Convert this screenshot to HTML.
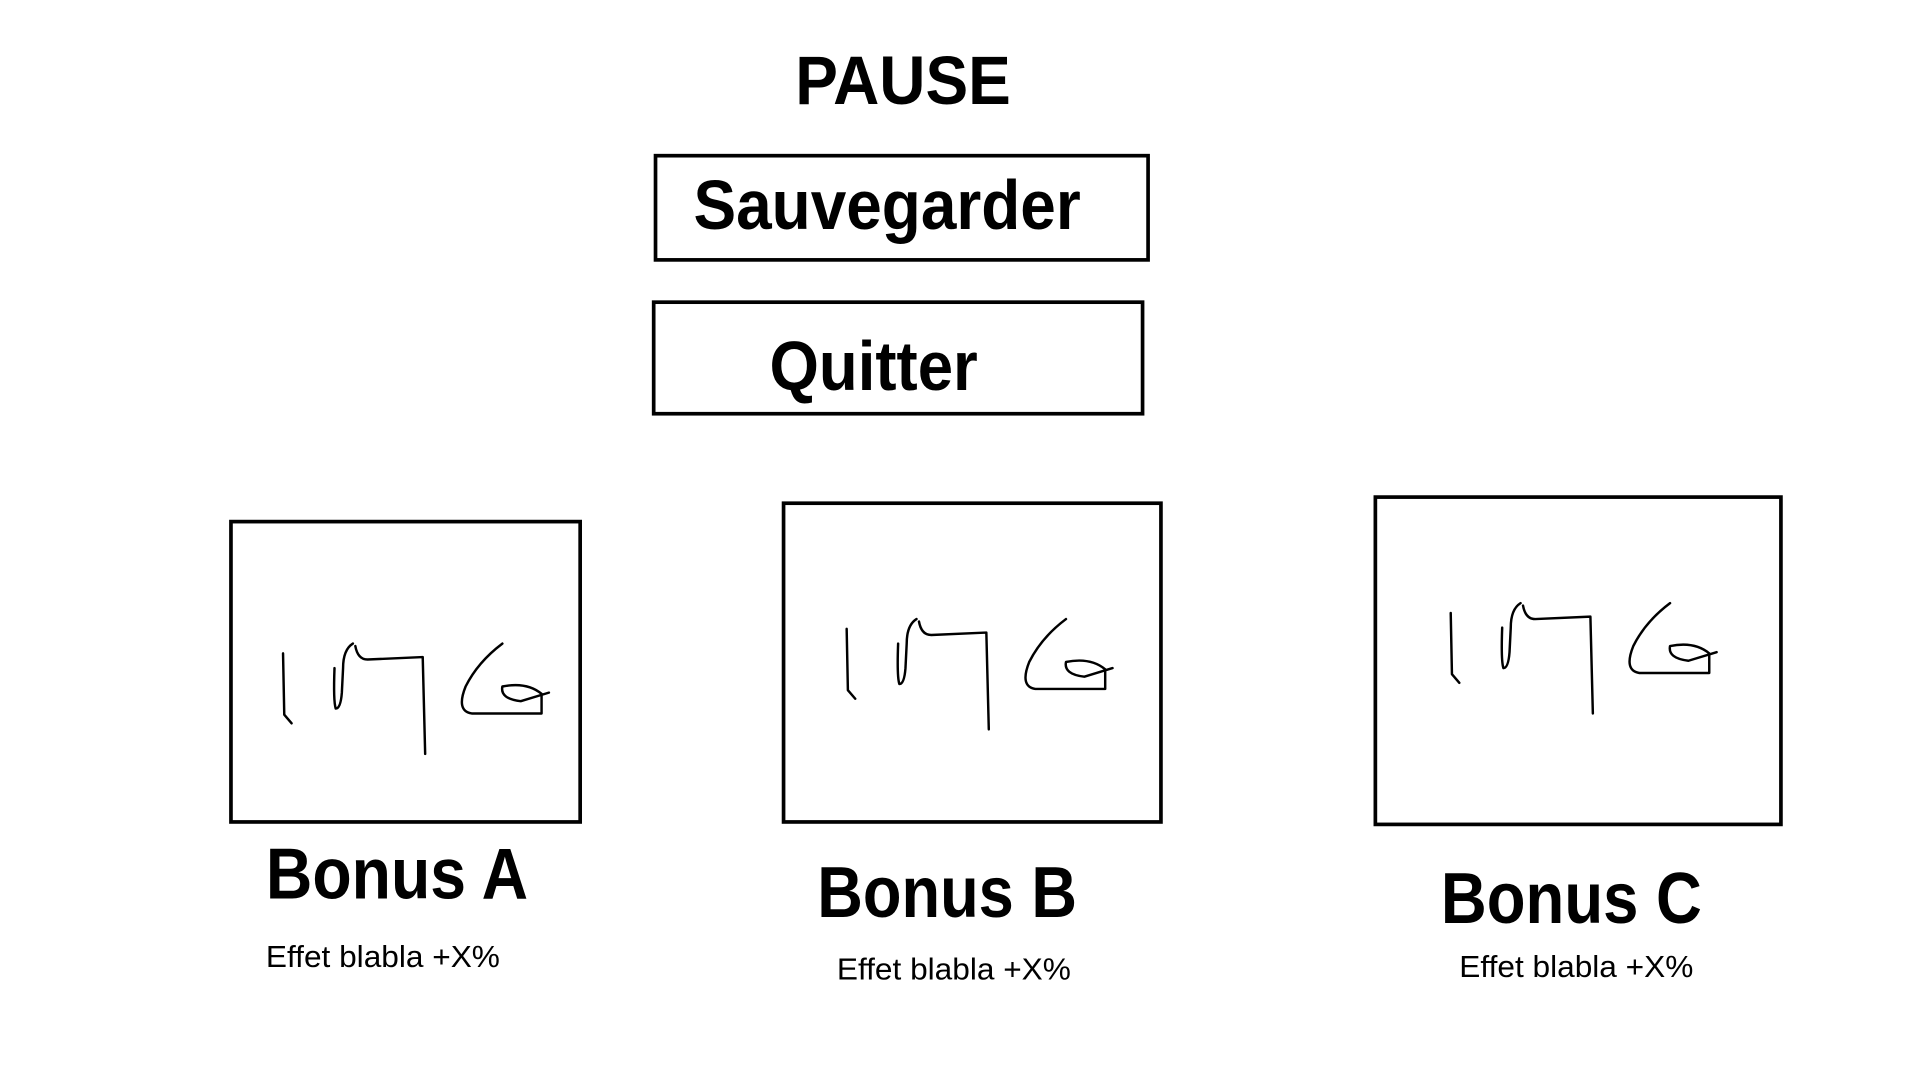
<!DOCTYPE html>
<html><head><meta charset="utf-8"><style>html,body{margin:0;padding:0;background:#fff;}svg{display:block}</style></head>
<body>
<svg width="1920" height="1080" viewBox="0 0 1567 881" preserveAspectRatio="none" xmlns="http://www.w3.org/2000/svg" font-family="Liberation Sans, Arial, sans-serif">
<defs>
<g id="img" fill="none" stroke="#000" stroke-width="2" stroke-linecap="round" stroke-linejoin="round">
<path d="M231,533 L232,583 L238,590"/>
<path d="M288,525 Q280,530 280,545 L279,565 Q278,578 274,578 Q272,572 273,545"/>
<path d="M290,527 Q292,538 300,538 L345,536 L347,615"/>
<path d="M410,525 Q390,540 380,560 Q372,580 385,582 L442,582 L442,566 Q430,556 410,560 Q408,570 425,572 L448,565"/>
</g>
</defs>
<text x="737" y="85" font-size="56" font-weight="bold" text-anchor="middle" textLength="176" lengthAdjust="spacingAndGlyphs">PAUSE</text>
<rect x="535" y="127" width="402" height="85" fill="none" stroke="#000" stroke-width="3"/>
<text x="566" y="187" font-size="57" font-weight="bold" textLength="316" lengthAdjust="spacingAndGlyphs">Sauvegarder</text>
<rect x="533.5" y="246.5" width="399" height="91" fill="none" stroke="#000" stroke-width="3"/>
<text x="628" y="318" font-size="57" font-weight="bold" textLength="170" lengthAdjust="spacingAndGlyphs">Quitter</text>
<rect x="188.5" y="425.5" width="285" height="245" fill="none" stroke="#000" stroke-width="3"/>
<rect x="639.5" y="410.5" width="308" height="260" fill="none" stroke="#000" stroke-width="3"/>
<rect x="1122.5" y="405.5" width="331" height="267" fill="none" stroke="#000" stroke-width="3"/>
<use href="#img"/>
<use href="#img" transform="translate(460,-20)"/>
<use href="#img" transform="translate(953,-33)"/>
<text x="217" y="733" font-size="59" font-weight="bold" textLength="214" lengthAdjust="spacingAndGlyphs">Bonus A</text>
<text x="667" y="748" font-size="59" font-weight="bold" textLength="212" lengthAdjust="spacingAndGlyphs">Bonus B</text>
<text x="1176" y="753" font-size="59" font-weight="bold" textLength="213" lengthAdjust="spacingAndGlyphs">Bonus C</text>
<text x="217" y="789" font-size="25" textLength="191" lengthAdjust="spacingAndGlyphs">Effet blabla +X%</text>
<text x="683" y="799" font-size="25" textLength="191" lengthAdjust="spacingAndGlyphs">Effet blabla +X%</text>
<text x="1191" y="797" font-size="25" textLength="191" lengthAdjust="spacingAndGlyphs">Effet blabla +X%</text>
</svg>
</body></html>
